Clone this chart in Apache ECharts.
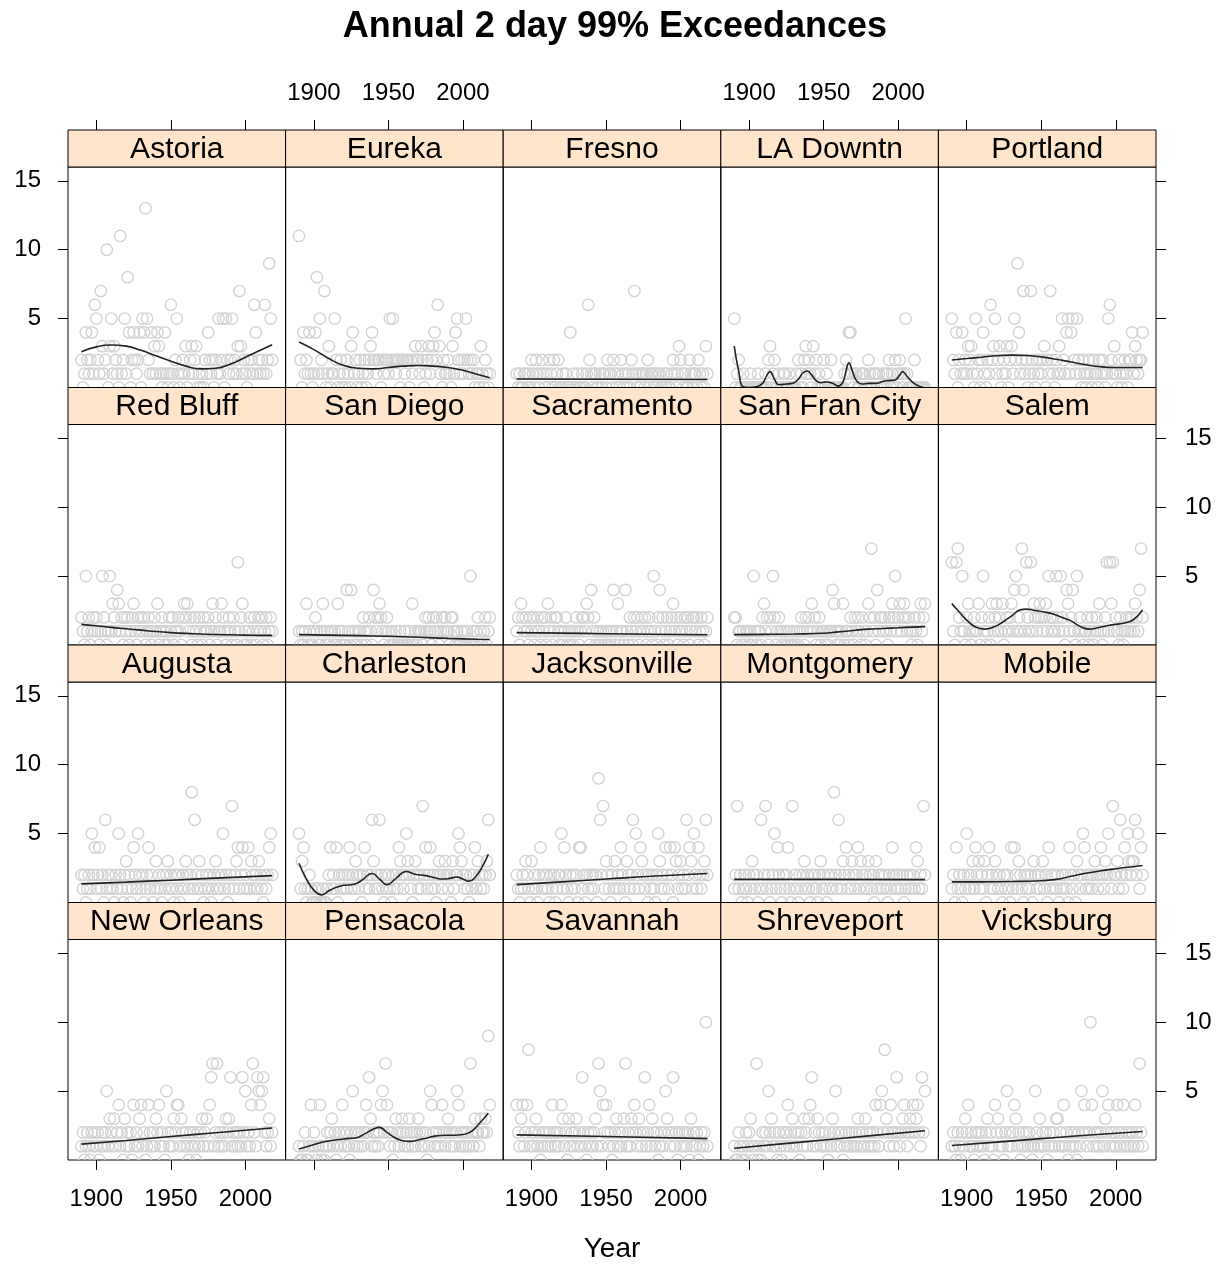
<!DOCTYPE html>
<html><head><meta charset="utf-8">
<script src="https://cdn.jsdelivr.net/npm/echarts@6/dist/echarts.min.js"></script>
<style>html,body{margin:0;padding:0;background:#fff}#chart{width:1230px;height:1266px}</style>
</head><body><div id="chart"></div>
<script>
const FIRST_YEAR = 1890;
const stations = ['Astoria','Eureka','Fresno','LA Downtn','Portland','Red Bluff','San Diego','Sacramento','San Fran City','Salem','Augusta','Charleston','Jacksonville','Montgomery','Mobile','New Orleans','Pensacola','Savannah','Shreveport','Vicksburg'];
const xTicks = [1900, 1950, 2000];
const yTicks = [5, 10, 15];
const xLabel = 'Year';
const titleText = 'Annual 2 day 99% Exceedances';

// annual counts, one value per year from 1890 to 2018
const astoria = [2,0,1,4,2,1,2,4,1,6, 5,2,1,7,3,1,2,10,0,3, 5,1,3,2,1,0,11,1,2,5, 1,8,4,0,2,4,2,1,2,4, 0,5,4,13,5,2,1,4,1,3, 1,4,3,1,0,1,4,1,0,1, 6,1,0,2,5,1,0,1,2,1, 3,0,1,2,3,1,2,3,0,1, 0,1,0,2,1,4,2,1,2,0, 2,1,5,1,2,5,0,5,2,1, 2,5,1,2,1,3,7,3,1,2, 1,0,2,1,2,1,6,4,1,2, 1,2,1,6,1,2,9,5,2];
const eureka = [11,2,0,4,1,2,1,4,1,0, 1,4,8,1,5,2,1,7,0,1, 3,0,1,1,5,2,0,1,2,0, 1,0,2,1,0,3,4,1,2,0, 1,2,0,1,2,0,1,2,3,4, 2,2,1,2,2,0,2,1,2,2, 1,5,2,5,2,1,2,2,0,2, 2,1,2,2,0,2,1,2,3,2, 2,1,3,2,0,1,2,3,1,2, 3,4,2,6,3,1,0,2,1,1, 2,1,0,3,1,4,5,2,1,2, 1,2,5,2,1,2,1,2,0,1, 1,0,3,1,0,2,1,0,1];
const fresno = [1,0,1,0,0,1,1,0,1,0, 2,1,0,2,1,0,1,2,1,0, 1,0,2,1,0,2,0,1,2,0, 0,1,0,1,0,0,4,0,1,0, 0,1,0,0,1,0,0,1,6,2, 1,0,1,1,0,0,1,0,1,1, 0,2,1,1,0,2,1,0,1,0, 2,1,0,1,0,1,0,2,1,7, 1,0,1,0,1,1,0,1,2,0, 1,1,0,1,0,1,1,0,0,1, 0,1,0,0,1,2,1,0,1,3, 2,1,0,1,0,0,2,1,0,1, 1,0,2,1,0,1,0,3,1];
const laDowntn = [5,0,1,2,0,0,1,0,0,0, 0,1,0,0,0,0,1,0,0,0, 0,1,0,2,3,0,1,2,0,0, 1,0,0,1,1,0,0,1,0,0, 0,0,1,2,0,1,0,2,3,1, 2,1,0,3,1,2,0,1,0,0, 2,0,1,0,0,2,0,0,0,0, 0,0,0,0,1,2,1,4,4,1, 0,1,1,0,0,1,1,1,0,0, 2,1,0,0,1,1,0,1,0,0, 1,0,1,1,2,0,1,0,2,0, 1,2,1,0,1,5,1,0,0,0, 0,2,0,0,0,0,0,0,0];
const portland = [5,2,1,4,0,2,1,4,1,2, 1,3,2,3,1,0,5,1,2,0, 2,4,1,0,2,1,6,2,3,5, 1,2,3,0,1,2,1,3,0,2, 3,1,5,2,9,4,1,2,7,1, 2,0,1,7,2,1,0,2,1,2, 1,2,3,0,2,1,7,2,1,0, 2,1,3,1,5,2,1,4,5,1, 4,5,2,1,5,2,1,0,2,1, 0,1,2,1,0,2,1,1,0,2, 1,2,1,0,1,5,6,2,1,3, 1,0,2,1,0,1,2,1,0,2, 2,4,1,3,2,1,2,2,4];
const redBluff = [2,1,0,5,1,2,0,1,2,1, 2,1,0,1,5,2,1,0,1,5, 1,3,2,1,4,3,1,2,0,2, 1,2,0,1,2,3,1,0,2,1, 2,1,2,0,1,2,1,0,1,2, 1,3,0,1,2,1,0,1,0,2, 1,2,0,1,1,2,1,0,2,3, 2,3,1,2,0,1,2,1,0,2, 1,0,2,1,1,2,0,1,3,1, 2,0,1,1,3,2,1,0,1,2, 1,0,2,1,0,6,1,2,3,0, 1,0,1,2,0,1,2,0,1,2, 1,2,0,1,2,0,1,2,1];
const sanDiego = [1,0,1,0,1,3,0,1,0,0, 1,2,1,0,0,1,3,1,0,1, 0,1,1,0,1,0,3,1,0,1, 0,0,4,1,0,4,1,0,1,0, 1,1,0,2,1,0,1,2,1,0, 4,2,1,2,3,2,1,0,1,2, 1,0,1,0,0,1,0,0,1,0, 0,1,0,0,1,0,3,0,1,0, 1,1,1,0,1,2,1,2,1,0, 2,1,2,1,0,1,2,1,2,1, 1,0,2,2,1,0,1,0,0,1, 0,1,0,1,0,5,0,1,0,1, 2,0,1,0,1,2,0,1,2];
const sacramento = [1,2,0,3,2,1,2,1,0,2, 1,2,0,1,2,1,0,2,1,2, 0,3,1,2,0,1,2,2,1,0, 1,0,1,2,0,1,0,1,0,1, 2,1,0,1,2,2,1,3,2,0, 4,1,2,0,1,0,1,0,1,0, 1,0,1,0,1,4,0,1,3,0, 1,1,0,4,1,0,2,1,0,2, 1,2,0,1,2,1,2,0,1,2, 1,0,5,1,0,2,4,1,2,0, 1,2,0,1,2,3,1,2,0,1, 2,1,0,2,1,2,0,1,2,2, 1,2,0,1,2,1,0,1,2];
const sanFranCity = [2,2,0,1,1,0,1,0,1,1, 0,1,0,5,1,0,1,1,0,2, 3,1,2,0,2,1,5,2,0,1, 2,1,0,1,0,1,0,1,0,0, 1,0,1,0,1,2,1,0,2,1, 2,1,3,1,2,0,1,2,0,1, 1,0,1,0,1,1,4,3,1,0, 1,0,1,3,0,1,1,0,2,1, 0,2,1,2,1,0,2,1,0,1, 3,2,7,1,2,0,4,1,2,2, 1,2,1,0,2,1,3,2,5,1, 2,3,1,2,3,2,1,2,1,0, 1,2,1,0,2,3,1,2,3];
const salem = [6,1,0,6,7,2,1,5,1,0, 2,3,1,0,1,2,1,1,3,0, 2,5,1,0,1,2,0,3,1,2, 3,1,2,1,3,0,1,2,1,2, 3,1,4,5,1,2,1,7,4,1, 6,2,1,6,1,3,2,1,2,3, 2,1,2,3,1,5,2,1,2,1, 5,2,1,5,2,1,0,4,3,1, 2,4,1,0,5,1,2,1,0,1, 1,2,0,1,2,0,1,2,1,3, 1,0,1,2,6,1,6,3,6,1, 2,1,0,2,1,0,1,2,1,2, 1,2,1,3,2,1,4,7,2];
const augusta = [2,1,2,0,1,2,1,5,2,4, 1,2,4,1,2,0,6,1,2,1, 2,1,0,2,1,5,2,1,0,2, 3,1,2,0,1,4,2,1,5,2, 1,2,0,1,2,4,1,2,0,1, 3,1,2,1,0,2,1,2,3,1, 2,1,0,2,1,2,0,1,2,1, 3,2,1,2,8,1,6,2,1,3, 1,2,0,1,2,1,2,0,1,2, 3,1,2,1,2,5,1,2,0,1, 2,7,1,2,3,4,1,2,4,1, 2,1,4,1,3,2,1,2,1,3, 2,1,0,2,1,2,4,5,2];
const charleston = [5,1,3,4,1,0,1,2,1,0, 0,1,0,1,0,0,1,0,0,1, 2,4,1,2,1,4,0,2,1,2, 1,2,1,2,4,1,2,1,3,2, 1,2,0,2,4,1,2,1,2,6, 3,1,2,1,6,2,1,0,2,1, 2,1,0,2,1,2,1,4,3,2, 1,2,5,3,2,1,0,2,3,2, 1,2,1,7,2,4,1,2,4,1, 2,1,0,2,3,2,1,2,3,2, 1,2,0,3,1,2,2,5,4,3, 2,1,2,1,0,2,1,2,4,1, 3,2,1,2,1,2,3,6,2];
const jacksonville = [2,1,0,1,2,1,3,2,1,0, 3,1,2,1,0,2,4,1,2,1, 2,1,0,2,1,2,0,1,2,2, 5,1,4,2,1,0,2,1,2,1, 2,0,4,4,1,2,0,2,1,2, 1,2,1,2,0,9,6,2,7,1, 3,2,1,0,2,1,3,1,2,1, 4,2,1,0,3,2,1,2,6,1, 5,2,1,4,3,2,1,2,0,2, 1,2,1,0,2,5,3,1,2,1, 4,2,1,4,2,0,4,3,1,2, 3,1,2,1,6,2,4,3,1,5, 2,1,4,2,1,2,3,6,2];
const montgomery = [1,2,7,1,2,0,1,2,1,0, 2,1,3,2,1,2,0,1,6,1, 2,7,1,2,0,1,2,5,1,4, 2,1,0,2,1,2,4,1,0,7, 1,2,1,0,2,1,2,3,1,2, 1,0,2,1,2,1,0,2,3,1, 2,1,0,2,1,2,1,8,2,1, 6,2,1,3,2,4,1,2,1,3, 2,1,2,4,1,3,2,1,2,1, 3,2,1,2,0,3,1,2,1,2, 1,2,1,0,2,1,4,2,1,2, 1,2,1,2,0,1,2,1,2,1, 2,1,4,3,1,2,1,7,2];
const mobile = [1,2,0,4,1,2,1,0,2,1, 5,2,1,2,3,1,4,2,3,1, 2,1,3,0,2,4,1,2,1,3, 2,1,2,1,0,2,1,2,1,0, 4,1,4,2,1,3,2,1,0,2, 1,2,1,2,0,3,2,1,2,1, 2,3,1,2,0,4,1,2,1,2, 1,2,0,1,2,1,2,1,0,4, 2,1,2,0,3,2,1,2,5,4, 1,2,1,2,1,2,3,2,1,2, 4,2,1,3,2,5,2,1,7,2, 2,3,1,6,2,1,4,2,5,3, 2,3,3,6,2,5,1,4,2];
const newOrleans = [1,2,0,1,2,1,0,2,1,2, 1,2,0,1,2,1,2,5,1,3, 2,1,3,1,2,4,1,2,0,3, 1,2,1,2,0,4,1,2,1,3, 4,1,2,0,1,4,2,1,2,1, 3,2,4,1,2,1,0,5,2,1, 2,1,3,2,4,4,1,3,2,1, 2,1,0,2,1,2,1,0,2,1, 2,3,1,2,3,1,4,6,7,1, 2,7,1,2,1,2,1,3,2,3, 6,1,2,1,2,1,2,1,6,2, 5,1,2,1,4,7,2,1,6,5, 4,5,6,2,1,2,3,1,2];
const pensacola = [1,0,0,1,2,0,0,1,4,1, 2,1,0,1,4,0,1,0,1,2, 1,2,3,1,2,0,1,2,1,4, 2,1,2,1,0,2,5,1,2,1, 2,1,2,1,2,4,2,6,3,1, 2,1,2,1,2,4,5,2,7,4, 2,1,2,0,1,3,2,1,2,3, 2,1,2,1,3,2,1,2,1,2, 3,2,1,2,1,2,0,1,5,4, 2,1,2,1,2,1,4,2,1,2, 3,2,1,2,1,2,5,4,1,2, 1,2,1,2,1,7,2,1,3,2, 2,1,3,2,2,3,2,9,4];
const savannah = [4,2,1,3,4,1,2,4,8,1, 2,1,2,3,1,2,0,1,2,1, 2,1,2,1,4,2,1,2,1,2, 4,3,1,2,0,3,1,2,1,2, 3,1,2,1,6,2,1,0,2,1, 2,1,2,3,1,7,5,1,4,2, 4,2,1,2,0,1,2,3,1,2, 1,2,3,7,1,2,1,3,2,4, 2,1,3,2,1,2,6,1,2,4, 1,3,2,1,2,0,1,2,1,2, 5,3,2,1,2,6,1,2,0,2, 1,2,1,2,1,2,0,3,1,2, 1,2,0,1,2,1,2,10,1];
const shreveport = [1,0,0,2,1,0,1,0,2,1, 2,3,1,0,1,7,0,1,0,2, 1,2,1,5,2,3,1,2,1,0, 2,1,0,2,1,2,4,1,2,3, 1,2,1,2,0,2,1,3,2,1, 3,4,6,1,2,1,3,2,1,2, 1,2,1,0,2,1,3,2,5,1, 2,1,2,0,1,2,1,2,1,2, 1,2,1,3,2,1,2,1,3,2, 1,2,1,2,1,4,2,1,4,5, 2,8,3,2,1,4,2,1,2,6, 2,1,2,3,4,2,1,2,3,2, 4,2,3,4,2,1,6,2,5];
const vicksburg = [1,2,1,0,2,1,0,2,1,3, 2,4,1,2,1,0,2,1,2,1, 2,1,0,2,3,1,2,1,0,4, 2,3,1,2,1,0,2,5,1,2, 1,2,4,3,1,2,0,1,2,1, 2,1,2,1,0,1,5,2,1,3, 1,2,1,2,0,1,2,1,2,1, 3,3,1,2,1,4,1,2,0,1, 2,1,2,1,0,2,1,5,2,4, 2,1,2,10,4,1,2,1,2,1, 2,5,1,3,2,4,1,2,1,2, 1,4,2,1,2,4,1,2,1,2, 1,2,1,4,2,1,7,2,1];

// smooth fitted curves, [year, value]
const fitAstoria = [[1890,2.6],[1900,2.95],[1910,3.08],[1920,3.0],[1930,2.7],[1940,2.3],[1950,1.9],[1960,1.55],[1970,1.35],[1980,1.4],[1990,1.7],[2000,2.2],[2010,2.7],[2018,3.1]];
const fitEureka = [[1890,3.3],[1900,2.75],[1910,2.1],[1920,1.6],[1930,1.4],[1940,1.35],[1950,1.45],[1960,1.55],[1970,1.6],[1980,1.55],[1990,1.45],[2000,1.25],[2010,0.95],[2018,0.7]];
const fitFresno = [[1890,0.62],[1950,0.6],[2018,0.58]];
const fitLaDowntn = [[1890,3.0],[1893,1.2],[1896,0.05],[1900,0.0],[1905,0.05],[1909,0.3],[1912,0.9],[1914,1.15],[1917,0.6],[1920,0.2],[1925,0.25],[1929,0.3],[1933,0.6],[1936,1.05],[1939,1.2],[1942,0.9],[1945,0.5],[1948,0.35],[1952,0.4],[1956,0.3],[1960,0.1],[1963,0.4],[1965,1.2],[1967,1.8],[1969,1.3],[1972,0.5],[1976,0.25],[1980,0.3],[1985,0.3],[1990,0.45],[1994,0.5],[1998,0.55],[2001,0.9],[2003,1.15],[2006,0.8],[2010,0.35],[2014,0.1],[2017,0.0]];
const fitPortland = [[1890,2.0],[1900,2.1],[1910,2.2],[1920,2.3],[1930,2.35],[1940,2.32],[1950,2.22],[1960,2.05],[1970,1.85],[1980,1.65],[1990,1.5],[2000,1.45],[2010,1.45],[2018,1.45]];
const fitRedBluff = [[1890,1.5],[1900,1.4],[1910,1.28],[1920,1.18],[1930,1.08],[1940,0.98],[1950,0.9],[1960,0.84],[1970,0.8],[1980,0.76],[1990,0.74],[2000,0.72],[2010,0.7],[2018,0.7]];
const fitSanDiego = [[1890,0.75],[1910,0.72],[1930,0.68],[1950,0.63],[1970,0.56],[1990,0.48],[2010,0.42],[2018,0.4]];
const fitSacramento = [[1890,0.9],[1920,0.86],[1950,0.82],[1980,0.78],[2018,0.74]];
const fitSanFranCity = [[1890,0.75],[1910,0.77],[1930,0.8],[1950,0.85],[1960,0.95],[1970,1.05],[1980,1.15],[1990,1.2],[2000,1.25],[2010,1.3],[2018,1.33]];
const fitSalem = [[1890,3.0],[1895,2.4],[1900,1.8],[1906,1.3],[1912,1.15],[1918,1.3],[1924,1.65],[1930,2.1],[1936,2.55],[1940,2.6],[1946,2.5],[1952,2.4],[1958,2.25],[1964,2.0],[1970,1.75],[1976,1.35],[1982,1.15],[1988,1.25],[1994,1.4],[2000,1.5],[2006,1.6],[2012,1.85],[2018,2.55]];
const fitAugusta = [[1890,1.35],[1920,1.48],[1950,1.62],[1980,1.77],[2018,1.95]];
const fitCharleston = [[1890,2.85],[1895,1.7],[1900,0.9],[1905,0.55],[1910,0.85],[1915,1.1],[1920,1.25],[1926,1.3],[1932,1.6],[1939,2.1],[1944,1.7],[1949,1.3],[1955,1.75],[1962,2.25],[1968,2.05],[1975,1.95],[1981,1.8],[1986,1.7],[1991,1.75],[1996,1.85],[2000,1.7],[2004,1.55],[2008,1.8],[2013,2.6],[2017,3.5]];
const fitJacksonville = [[1890,1.3],[1920,1.5],[1950,1.7],[1980,1.9],[2018,2.1]];
const fitMontgomery = [[1890,1.68],[1950,1.68],[2018,1.66]];
const fitMobile = [[1890,1.5],[1910,1.5],[1930,1.52],[1950,1.58],[1960,1.68],[1970,1.9],[1980,2.12],[1990,2.3],[2000,2.45],[2010,2.58],[2018,2.68]];
const fitNewOrleans = [[1890,1.15],[1920,1.42],[1950,1.7],[1980,1.98],[2018,2.32]];
const fitPensacola = [[1890,0.8],[1898,1.05],[1906,1.3],[1914,1.45],[1922,1.55],[1928,1.6],[1935,1.95],[1940,2.25],[1944,2.37],[1948,2.1],[1953,1.7],[1958,1.45],[1964,1.35],[1970,1.45],[1976,1.6],[1982,1.75],[1988,1.8],[1994,1.8],[2000,1.85],[2006,2.1],[2011,2.65],[2017,3.4]];
const fitSavannah = [[1890,1.82],[1950,1.7],[2018,1.55]];
const fitShreveport = [[1890,0.85],[1920,1.15],[1950,1.45],[1980,1.75],[2018,2.12]];
const fitVicksburg = [[1890,1.05],[1920,1.3],[1950,1.55],[1980,1.8],[2018,2.07]];

const counts = [astoria, eureka, fresno, laDowntn, portland, redBluff, sanDiego, sacramento, sanFranCity, salem, augusta, charleston, jacksonville, montgomery, mobile, newOrleans, pensacola, savannah, shreveport, vicksburg];
const fits = [fitAstoria, fitEureka, fitFresno, fitLaDowntn, fitPortland, fitRedBluff, fitSanDiego, fitSacramento, fitSanFranCity, fitSalem, fitAugusta, fitCharleston, fitJacksonville, fitMontgomery, fitMobile, fitNewOrleans, fitPensacola, fitSavannah, fitShreveport, fitVicksburg];

// layout
const FONT = '"Liberation Sans", Arial, sans-serif';
const NCOL = 5;
const X_MIN = 1881, X_MAX = 2027, Y_MIN = 0, Y_MAX = 16;
const LEFT0 = 68, PANEL_W = 217.6, TOP0 = 130, STRIP_H = 37, ROW_H = 257.5, PANEL_H = 220.5;
const TICK_FS = 24, STRIP_FS = 30, TICK_LEN = 10;

const grids = [], xAxes = [], yAxes = [], series = [], graphics = [];
stations.forEach((name, i) => {
  const r = Math.floor(i / NCOL), c = i % NCOL;
  const gx = LEFT0 + c * PANEL_W, sy = TOP0 + r * ROW_H, gy = sy + STRIP_H;
  grids.push({left: gx, top: gy, width: PANEL_W, height: PANEL_H, show: true, borderColor: '#000', borderWidth: 1, backgroundColor: 'transparent'});
  const xTickShow = (r === 3);
  const xLabShow = (r === 3 && c % 2 === 0);
  xAxes.push({gridIndex: i, type: 'value', min: X_MIN, max: X_MAX, position: 'bottom',
    axisLine: {show: false}, splitLine: {show: false},
    axisTick: {show: xTickShow, customValues: xTicks, length: TICK_LEN, lineStyle: {color: '#000', width: 1}},
    axisLabel: {show: xLabShow, customValues: xTicks, margin: 27, fontSize: TICK_FS, color: '#000', fontFamily: FONT, formatter: v => String(v)}
  });
  const yTickShow = (c === 0 || c === 4);
  const yLabShow = (c === 0 && r % 2 === 0) || (c === 4 && r % 2 === 1);
  yAxes.push({gridIndex: i, type: 'value', min: Y_MIN, max: Y_MAX, position: c === 4 ? 'right' : 'left',
    axisLine: {show: false}, splitLine: {show: false},
    axisTick: {show: yTickShow, customValues: yTicks, length: TICK_LEN, lineStyle: {color: '#000', width: 1}},
    axisLabel: {show: yLabShow, customValues: yTicks, margin: c === 4 ? 29 : 27, fontSize: TICK_FS, color: '#000', fontFamily: FONT, formatter: v => String(v)}
  });
  const pts = counts[i].map((v, k) => [FIRST_YEAR + k, v]);
  series.push({type: 'custom', xAxisIndex: i, yAxisIndex: i, clip: true, silent: true,
    encode: {x: 0, y: 1}, data: pts,
    renderItem: (params, api) => {
      const p = api.coord([api.value(0), api.value(1)]);
      return {type: 'circle', shape: {cx: p[0], cy: p[1], r: 5.7}, style: {fill: 'none', stroke: '#d2d2d2', lineWidth: 1.4}};
    }
  });
  series.push({type: 'line', xAxisIndex: i, yAxisIndex: i, data: fits[i], smooth: 0.5, showSymbol: false, clip: true, silent: true,
    lineStyle: {color: '#222', width: 1.6}, z: 3});
  graphics.push({type: 'rect', shape: {x: gx, y: sy, width: PANEL_W, height: STRIP_H}, style: {fill: '#ffe5cc', stroke: '#000', lineWidth: 1}, z: 10});
  graphics.push({type: 'text', x: gx + PANEL_W / 2, y: sy + STRIP_H / 2 + 1, z: 11,
    style: {text: name, fontSize: STRIP_FS, fontFamily: FONT, fill: '#000', align: 'center', verticalAlign: 'middle', textAlign: 'center', textVerticalAlign: 'middle'}});
});
// top axes: a thin band just above the first row of strips, one per column.
// bottom edge of the band carries the ticks (pointing up), top edge carries the labels.
for (let c = 0; c < NCOL; c++) {
  const gi = grids.length;
  grids.push({left: LEFT0 + c * PANEL_W, top: TOP0 - TICK_LEN, width: PANEL_W, height: TICK_LEN, show: false});
  xAxes.push({gridIndex: gi, type: 'value', min: X_MIN, max: X_MAX, position: 'bottom',
    axisLine: {show: false}, splitLine: {show: false},
    axisTick: {show: true, inside: true, customValues: xTicks, length: TICK_LEN, lineStyle: {color: '#000', width: 1}},
    axisLabel: {show: false}
  });
  xAxes.push({gridIndex: gi, type: 'value', min: X_MIN, max: X_MAX, position: 'top',
    axisLine: {show: false}, splitLine: {show: false},
    axisTick: {show: false},
    axisLabel: {show: c % 2 === 1, customValues: xTicks, margin: 15, fontSize: TICK_FS, color: '#000', fontFamily: FONT, formatter: v => String(v)}
  });
  yAxes.push({gridIndex: gi, type: 'value', min: 0, max: 1, show: false});
}
graphics.push({type: 'text', x: 612, y: 1249, z: 11,
  style: {text: xLabel, fontSize: 28, fontFamily: FONT, fill: '#000', align: 'center', verticalAlign: 'middle', textAlign: 'center', textVerticalAlign: 'middle'}});

const chart = echarts.init(document.getElementById('chart'), null, {renderer: 'canvas'});
chart.setOption({
  animation: false,
  backgroundColor: '#fff',
  title: {text: titleText, left: 'center', top: 4, textStyle: {fontSize: 36, fontWeight: 'bold', fontFamily: FONT, color: '#000'}},
  grid: grids, xAxis: xAxes, yAxis: yAxes, series: series, graphic: graphics
});
</script></body></html>
